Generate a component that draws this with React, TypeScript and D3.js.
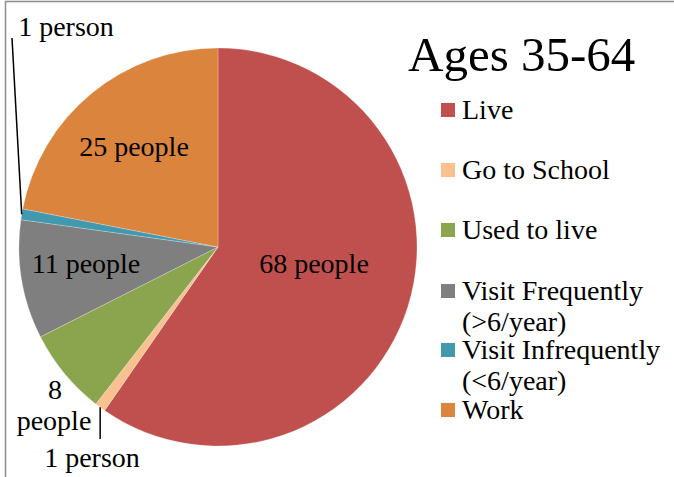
import React from "react";
import * as d3 from "d3";

const categories = ["Live", "Go to School", "Used to live", "Visit Frequently (>6/year)", "Visit Infrequently (<6/year)", "Work"];
const values = [68, 1, 8, 11, 1, 25];
const sliceLabels = ["68 people", "1 person", "8 people", "11 people", "1 person", "25 people"];
const colors = ["#C0504D", "#F9C090", "#8BA54F", "#7F7F7F", "#4198AF", "#DB843D"];
const title = "Ages 35-64";

const W = 674, H = 477;
const cx = 218, cy = 247, R = 199;
const FONT = "'Liberation Serif', 'Times New Roman', serif";
const FS = 28;

export default function App() {
  const pie = d3.pie<number>().sort(null).value((d) => d);
  const arcs = pie(values);
  const arc = d3.arc<d3.PieArcDatum<number>>().innerRadius(0).outerRadius(R);
  const pt = (a: number, r: number) => [Math.sin(a) * r, -Math.cos(a) * r];
  const mid = (d: d3.PieArcDatum<number>) => (d.startAngle + d.endAngle) / 2;

  const inside: Record<number, { dx: number; dy: number }> = {
    0: { dx: 96, dy: 26 },
    5: { dx: -84, dy: -91 },
    3: { dx: -132, dy: 26 },
  };

  const legendY = [110, 170, 230, 291, 350, 410];
  const legendLines = [["Live"], ["Go to School"], ["Used to live"], ["Visit Frequently", "(>6/year)"], ["Visit Infrequently", "(<6/year)"], ["Work"]];

  const topOuter = pt(mid(arcs[4]), R);
  const botOuter = pt(mid(arcs[1]), R);

  return (
    <svg width={W} height={H} style={{ position: "absolute", left: 0, top: 0 }} fontFamily={FONT}>
      <rect x={0} y={0} width={W} height={H} fill="#fff" />
      <rect x={5.5} y={1.5} width={W + 10} height={H + 10} fill="none" stroke="#8c8c8c" strokeWidth={1.5} />
      <g transform={`translate(${cx},${cy})`}>
        {arcs.map((d, i) => (
          <path key={i} d={arc(d) || ""} fill={colors[i]} stroke="#fff" strokeWidth={0.4} strokeOpacity={0.6} />
        ))}
        {Object.entries(inside).map(([k, p]) => (
          <text key={k} x={p.dx} y={p.dy} fontSize={FS} textAnchor="middle" fill="#000">
            {sliceLabels[+k]}
          </text>
        ))}
        <line x1={topOuter[0]} y1={topOuter[1]} x2={12 - cx} y2={38 - cy} stroke="#000" strokeWidth={1.5} />
        <text x={66 - cx} y={36 - cy} fontSize={FS} textAnchor="middle">{sliceLabels[4]}</text>
        <line x1={botOuter[0]} y1={botOuter[1]} x2={botOuter[0]} y2={439 - cy} stroke="#000" strokeWidth={1.5} />
        <text x={92 - cx} y={467 - cy} fontSize={FS} textAnchor="middle">{sliceLabels[1]}</text>
        <text x={55 - cx} y={399 - cy} fontSize={FS} textAnchor="middle">8</text>
        <text x={54 - cx} y={430 - cy} fontSize={FS} textAnchor="middle">people</text>
      </g>
      <text x={408} y={71} fontSize={49} fill="#000">{title}</text>
      {categories.map((c, i) => (
        <g key={c}>
          <rect x={441} y={legendY[i] - 7} width={14} height={14} fill={colors[i]} />
          {legendLines[i].map((ln, j) => (
            <text key={j} x={462} y={legendY[i] + 9 + j * 31} fontSize={FS} fill="#000">{ln}</text>
          ))}
        </g>
      ))}
    </svg>
  );
}
